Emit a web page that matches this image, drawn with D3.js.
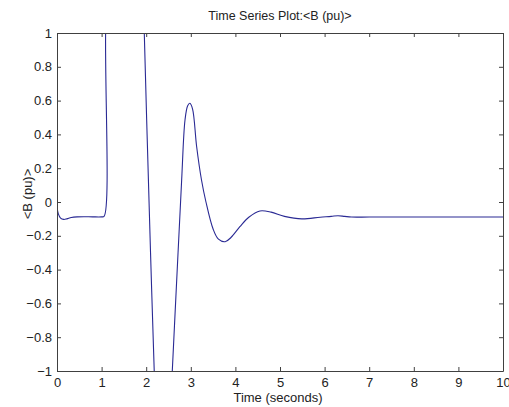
<!DOCTYPE html>
<html>
<head>
<meta charset="utf-8">
<script src="https://cdn.jsdelivr.net/npm/d3@7"></script>
<style>
    body { margin: 0; background: #fff; }
    text { font-family: "Liberation Sans", Arial, sans-serif; fill: #222; }
</style>
</head>
<body>
<script>
// values
var time = [0, 0.03, 0.08, 0.15, 0.22, 0.32, 0.45, 0.6, 0.8, 1.0, 1.055, 1.09, 1.15,
            1.5, 1.9, 1.957, 2.02, 2.075, 2.12, 2.18, 2.28, 2.38, 2.48, 2.585, 2.706, 2.795,
            2.87, 2.93, 2.98, 3.04, 3.13, 3.24, 3.34, 3.5, 3.62, 3.77, 3.9, 4.1, 4.3, 4.55,
            4.8, 5.1, 5.49, 5.9, 6.15, 6.3, 6.45, 6.6, 7, 8, 9, 10];
var bValue = [-0.03, -0.07, -0.095, -0.103, -0.1, -0.092, -0.088, -0.087, -0.088, -0.088, -0.085, 1.0, 2.2,
              3.0, 2.0, 1.0, 0.4, -0.1, -0.5, -1.0, -1.6, -1.8, -1.6, -1.0, -0.343, 0.13,
              0.485, 0.57, 0.584, 0.55, 0.33, 0.13, 0.0, -0.16, -0.22, -0.235, -0.21, -0.146, -0.09, -0.053,
              -0.06, -0.085, -0.1, -0.09, -0.085, -0.081, -0.085, -0.089, -0.089, -0.089, -0.089, -0.089];
var xTicks = [0, 1, 2, 3, 4, 5, 6, 7, 8, 9, 10];
var yTicks = [-1, -0.8, -0.6, -0.4, -0.2, 0, 0.2, 0.4, 0.6, 0.8, 1];

var w = 509,
    h = 407;
var x0 = 57, x1 = 503, y0 = 33, y1 = 371;

var svg = d3.select('body')
            .append('svg')
            .attr('width', w)
            .attr('height', h);

var x = d3.scaleLinear().domain([0, 10]).range([x0, x1]);
var y = d3.scaleLinear().domain([-1, 1]).range([y1, y0]);

var data = [];
for (var i = 0; i < time.length; i++) {
    data.push({ t: time[i], v: bValue[i] });
}

svg.append('clipPath')
    .attr('id', 'plotclip')
    .append('rect')
    .attr('x', x0)
    .attr('y', y0)
    .attr('width', x1 - x0)
    .attr('height', y1 - y0);

var line = d3.line()
    .x(function(d) { return x(d.t); })
    .y(function(d) { return y(d.v); })
    .curve(d3.curveCatmullRom.alpha(0.5));

svg.append('path')
    .datum(data)
    .attr('clip-path', 'url(#plotclip)')
    .attr('fill', 'none')
    .attr('stroke', '#2a2a94')
    .attr('stroke-width', 1.1)
    .attr('d', line);

// axes, ticks pointing inward on all four sides
function fmt(d) { return d3.format('')(+d.toFixed(1)); }

var gb = svg.append('g')
    .attr('transform', 'translate(0,' + y1 + ')')
    .call(d3.axisBottom(x).tickValues(xTicks).tickSizeInner(-4).tickSizeOuter(0).tickPadding(7).tickFormat(fmt));
var gt = svg.append('g')
    .attr('transform', 'translate(0,' + y0 + ')')
    .call(d3.axisTop(x).tickValues(xTicks).tickSizeInner(-4).tickSizeOuter(0).tickFormat(''));
var gl = svg.append('g')
    .attr('transform', 'translate(' + x0 + ',0)')
    .call(d3.axisLeft(y).tickValues(yTicks).tickSizeInner(-4).tickSizeOuter(0).tickPadding(5).tickFormat(fmt));
var gr = svg.append('g')
    .attr('transform', 'translate(' + x1 + ',0)')
    .call(d3.axisRight(y).tickValues(yTicks).tickSizeInner(-4).tickSizeOuter(0).tickFormat(''));

[gb, gt, gl, gr].forEach(function(g) {
    g.selectAll('path.domain').attr('stroke', '#404040');
    g.selectAll('line').attr('stroke', '#404040');
    g.selectAll('text')
        .style('font-family', '"Liberation Sans", Arial, sans-serif')
        .style('font-size', '13px')
        .attr('fill', '#222');
});

svg.append('text')
    .attr('x', (x0 + x1) / 2)
    .attr('y', 20)
    .attr('text-anchor', 'middle')
    .style('font-size', '12.5px')
    .text('Time Series Plot:<B (pu)>');

svg.append('text')
    .attr('x', (x0 + x1) / 2 - 2)
    .attr('y', 402)
    .attr('text-anchor', 'middle')
    .style('font-size', '13px')
    .text('Time (seconds)');

svg.append('text')
    .attr('transform', 'translate(32,194) rotate(-90)')
    .attr('text-anchor', 'middle')
    .style('font-size', '13px')
    .text('<B (pu)>');
</script>
</body>
</html>
